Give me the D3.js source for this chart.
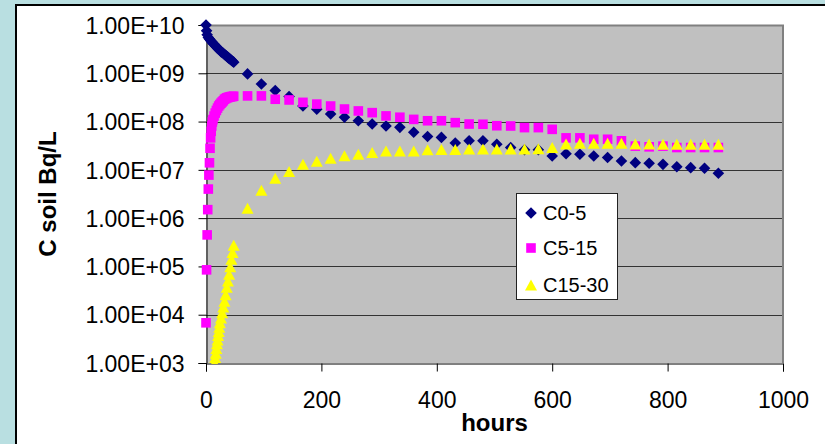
<!DOCTYPE html>
<html><head><meta charset="utf-8">
<script src="https://cdn.jsdelivr.net/npm/d3@7"></script>
<style>
html,body{margin:0;padding:0;background:#b9dfe1;overflow:hidden;}
svg{display:block;}
text{font-family:"Liberation Sans",Arial,sans-serif;fill:#000;}
</style></head>
<body>
<svg id="chart" width="825" height="444"></svg>
<script>
// ---- data ----
const seriesNames = ["C0-5", "C5-15", "C15-30"];

const hoursC0_5 = [0,1,2,4,6,8,10,12,14,16,18,20,22,24,26,28,30,32,34,36,38,40,42,44,46,48,
  72,96,120,144,168,192,216,240,264,288,312,336,360,384,408,432,456,480,504,528,552,576,600,
  624,648,672,696,720,744,768,792,816,840,864,888];
const valuesC0_5 = [1.0e10,7.6e9,6.3e9,5.5e9,5.1e9,4.8e9,4.5e9,4.2e9,4.0e9,3.7e9,3.55e9,3.3e9,3.16e9,3.0e9,
  2.8e9,2.7e9,2.6e9,2.45e9,2.35e9,2.24e9,2.14e9,2.04e9,1.95e9,1.86e9,1.78e9,1.7e9,
  9.7e8,6.0e8,4.4e8,3.3e8,2.1e8,1.8e8,1.44e8,1.23e8,1.04e8,8.9e7,8.1e7,7.6e7,6.0e7,4.9e7,4.7e7,
  3.6e7,4.0e7,4.0e7,3.4e7,2.9e7,2.6e7,2.6e7,1.94e7,2.16e7,2.1e7,1.94e7,1.8e7,1.53e7,1.41e7,
  1.37e7,1.30e7,1.16e7,1.11e7,1.08e7,8.5e6];

const hoursC5_15 = [0,1,2,3,4,5,6,7,8,9,10,11,12,14,16,18,20,22,24,26,28,30,32,34,36,38,40,42,44,46,48,
  72,96,120,144,168,192,216,240,264,288,312,336,360,384,408,432,456,480,504,528,552,576,600,
  624,648,672,696,720,744,768,792,816,840,864,888];
const valuesC5_15 = [6.8e3,8.5e4,4.5e5,1.5e6,4.0e6,7.8e6,1.4e7,2.8e7,4.6e7,6.3e7,8.1e7,9.8e7,1.1e8,
  1.3e8,1.5e8,1.7e8,1.9e8,2.1e8,2.25e8,2.4e8,2.55e8,2.7e8,2.9e8,3.0e8,3.1e8,3.15e8,3.2e8,3.25e8,3.3e8,3.3e8,3.35e8,
  3.4e8,3.4e8,2.9e8,2.8e8,2.5e8,2.3e8,2.1e8,1.82e8,1.66e8,1.53e8,1.31e8,1.23e8,1.11e8,1.04e8,1.04e8,
  9.5e7,8.9e7,8.8e7,8.2e7,8.1e7,7.5e7,7.5e7,6.9e7,4.6e7,4.6e7,4.3e7,4.3e7,4.0e7,3.1e7,3.0e7,3.1e7,
  2.9e7,2.9e7,2.9e7,2.9e7];

const hoursC15_30 = [15,16,17,18,19,20,21,22,23,24,26,28,30,32,34,36,38,40,42,44,46,48,
  72,96,120,144,168,192,216,240,264,288,312,336,360,384,408,432,456,480,504,528,552,576,600,
  624,648,672,696,720,744,768,792,816,840,864,888];
const valuesC15_30 = [1.0e3,1.3e3,1.6e3,2.0e3,2.5e3,3.0e3,3.7e3,4.5e3,5.5e3,6.8e3,8.5e3,1.1e4,1.45e4,
  1.9e4,2.6e4,3.7e4,5.0e4,6.9e4,9.8e4,1.4e5,1.95e5,2.75e5,
  1.6e6,3.8e6,6.7e6,9.2e6,1.3e7,1.5e7,1.74e7,1.95e7,2.1e7,2.3e7,2.45e7,2.45e7,2.45e7,2.6e7,2.65e7,
  2.65e7,2.7e7,2.7e7,2.7e7,2.7e7,2.7e7,2.75e7,2.9e7,3.45e7,3.55e7,3.55e7,3.55e7,3.55e7,3.45e7,3.45e7,
  3.4e7,3.4e7,3.4e7,3.4e7,3.4e7];

const yTickValues = [1e3,1e4,1e5,1e6,1e7,1e8,1e9,1e10];
const yTickLabels = ["1.00E+03","1.00E+04","1.00E+05","1.00E+06","1.00E+07","1.00E+08","1.00E+09","1.00E+10"];
const xTickValues = [0,200,400,600,800,1000];
const xTickLabels = ["0","200","400","600","800","1000"];
const xTitle = "hours";
const yTitle = "C soil Bq/L";

// ---- layout ----
const svg = d3.select("#chart");
const L = 206, R = 783, T = 25, B = 363;
const x = d3.scaleLinear().domain([0,1000]).range([L,R]);
const y = d3.scaleLog().domain([1e3,1e10]).range([B,T]);

// white panel
svg.append("rect").attr("x",16).attr("y",5).attr("width",900).attr("height",500)
  .attr("fill","#fff").attr("stroke","#000").attr("stroke-width",2);

// plot area
svg.append("rect").attr("x",L).attr("y",T).attr("width",R-L).attr("height",B-T).attr("fill","#c0c0c0");

// gridlines
svg.append("g").selectAll("line").data(yTickValues.slice(1)).join("line")
  .attr("x1",L).attr("x2",R).attr("y1",d=>Math.round(y(d))+0.5).attr("y2",d=>Math.round(y(d))+0.5)
  .attr("stroke","#333").attr("stroke-width",1.2);

// plot border top/right
svg.append("path").attr("d",`M${L},${T+0.5}H${R}V${B}`).attr("fill","none").attr("stroke","#808080").attr("stroke-width",2);

// axes
const yAxis = d3.axisLeft(y).tickValues(yTickValues).tickFormat((d,i)=>yTickLabels[i]).tickSizeOuter(0).tickSize(8).tickPadding(14);
const gy = svg.append("g").attr("transform",`translate(${L+0.5},0)`).call(yAxis);
gy.select(".domain").attr("stroke","#000");
gy.selectAll(".tick line").attr("stroke","#000");
gy.selectAll("text").attr("font-size",23).attr("font-family","Liberation Sans, Arial, sans-serif").attr("fill","#000").attr("dy","0.36em");

const xAxis = d3.axisBottom(x).tickValues(xTickValues).tickFormat((d,i)=>xTickLabels[i]).tickSizeOuter(0).tickSize(8).tickPadding(20);
const gx = svg.append("g").attr("transform",`translate(0,${B+0.5})`).call(xAxis);
gx.select(".domain").attr("stroke","#000");
gx.selectAll(".tick line").attr("stroke","#000");
gx.selectAll("text").attr("font-size",23).attr("font-family","Liberation Sans, Arial, sans-serif").attr("fill","#000");

// titles
svg.append("text").attr("x",(L+R)/2).attr("y",431).attr("text-anchor","middle")
  .attr("font-size",24).attr("font-weight","bold").text(xTitle);
svg.append("text").attr("transform",`translate(56,${(T+B)/2}) rotate(-90)`).attr("text-anchor","middle")
  .attr("font-size",24).attr("font-weight","bold").text(yTitle);

// markers
const diamond = (s)=>`M0,${-s}L${s},0L0,${s}L${-s},0Z`;
const square = (s)=>`M${-s},${-s}H${s}V${s}H${-s}Z`;
const triangle = (w,h)=>`M0,${-h/2}L${w/2},${h/2}H${-w/2}Z`;

const clip = svg.append("clipPath").attr("id","pc").append("rect")
  .attr("x",L-8).attr("y",T-8).attr("width",R-L+16).attr("height",B-T+9);

const marks = svg.append("g").attr("clip-path","url(#pc)");
const series = [
  {h:hoursC0_5, v:valuesC0_5, path:diamond(5.8), color:"#000080"},
  {h:hoursC5_15, v:valuesC5_15, path:square(4.8), color:"#ff00ff"},
  {h:hoursC15_30, v:valuesC15_30, path:triangle(12,11), color:"#ffff00"}
];
series.forEach(s=>{
  marks.append("g").selectAll("path").data(s.h.map((h,i)=>[h,s.v[i]])).join("path")
    .attr("d",s.path).attr("fill",s.color)
    .attr("transform",d=>`translate(${x(d[0])},${y(d[1])})`);
});

// legend
const lg = svg.append("g");
lg.append("rect").attr("x",516.5).attr("y",193.5).attr("width",101).attr("height",106)
  .attr("fill","#fff").attr("stroke","#222").attr("stroke-width",1);
const legendY = [213, 248, 285];
series.forEach((s,i)=>{
  lg.append("path").attr("d",s.path).attr("fill",s.color)
    .attr("transform",`translate(531,${legendY[i]})`);
  lg.append("text").attr("x",543).attr("y",legendY[i]+7).attr("font-size",20).text(seriesNames[i]);
});
</script>
</body></html>
